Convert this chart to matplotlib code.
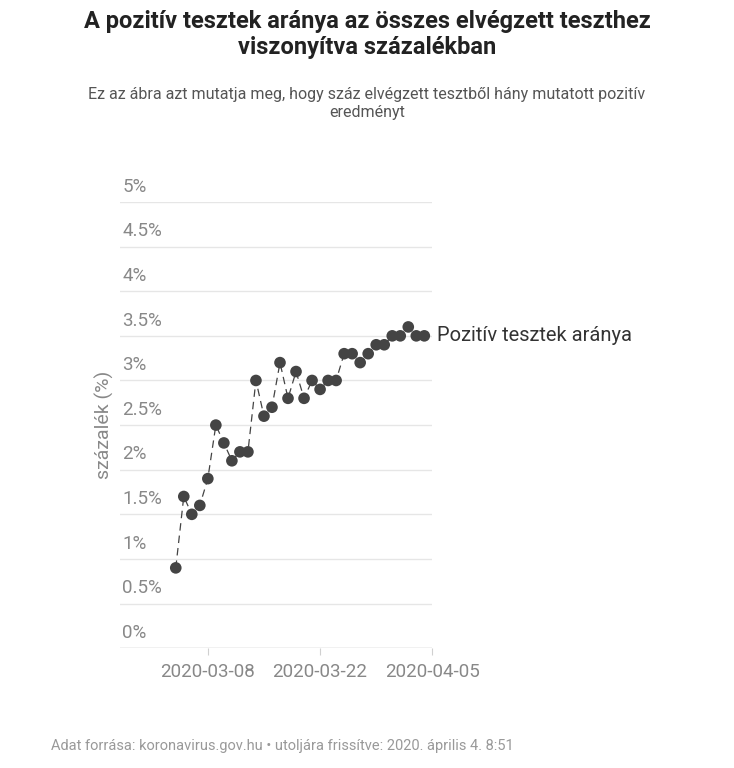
import numpy as np
import pandas as pd
import matplotlib.pyplot as plt
import matplotlib.dates as mdates
import matplotlib.transforms as mtrans

plt.rcParams['font.family'] = ['Roboto', 'DejaVu Sans']

dates = pd.date_range('2020-03-04', '2020-04-04', freq='D')
pct = [0.9, 1.7, 1.5, 1.6, 1.9, 2.5, 2.3, 2.1, 2.2, 2.2, 3.0, 2.6, 2.7, 3.2, 2.8, 3.1,
       2.8, 3.0, 2.9, 3.0, 3.0, 3.3, 3.3, 3.2, 3.3, 3.4, 3.4, 3.5, 3.5, 3.6, 3.5, 3.5]
yticks = [0, 0.5, 1, 1.5, 2, 2.5, 3, 3.5, 4, 4.5, 5]
ylabels = ['0%', '0.5%', '1%', '1.5%', '2%', '2.5%', '3%', '3.5%', '4%', '4.5%', '5%']
xticks = ['2020-03-08', '2020-03-22', '2020-04-05']

fig = plt.figure(figsize=(7.34, 7.68), dpi=100)
ax = fig.add_axes([0.163, 0.156, 0.426, 0.581])
dark = '#444444'
gray = '#888888'

ax.plot(dates, pct, color=dark, lw=0.9, ls=(0, (6, 4)), zorder=2)
ax.scatter(dates, pct, s=70, color=dark, zorder=3, edgecolors='none')

ax.set_xlim(pd.Timestamp('2020-02-26'), pd.Timestamp('2020-04-05'))
ax.set_ylim(0, 5)
for v in yticks:
    ax.axhline(v, color='#e6e6e6', lw=1, zorder=1)
ax.axhline(0, color='#d0d0d0', lw=1, zorder=1)
tr = mtrans.blended_transform_factory(ax.transAxes, ax.transData)
for v, lab in zip(yticks, ylabels):
    ax.text(0.008, v + 0.07, lab, transform=tr, color=gray, fontsize=13.5, va='bottom', ha='left')
ax.set_yticks([])
ax.set_xticks([pd.Timestamp(d) for d in xticks])
ax.set_xticklabels(xticks, color=gray, fontsize=13.5)
ax.tick_params(axis='x', length=5, color='#d0d0d0', pad=6)
for s in ax.spines.values():
    s.set_visible(False)
ax.set_ylabel('százalék (%)', color=gray, fontsize=14, labelpad=4)

ax.text(pd.Timestamp('2020-04-05'), 3.5, ' Pozitív tesztek aránya', color='#333333',
        fontsize=14.5, va='center', ha='left', clip_on=False)

fig.text(0.5, 0.955, 'A pozitív tesztek aránya az összes elvégzett teszthez\nviszonyítva százalékban',
         ha='center', va='center', fontsize=17, fontweight='bold', color='#222222', linespacing=1.2)
fig.text(0.5, 0.865, 'Ez az ábra azt mutatja meg, hogy száz elvégzett tesztből hány mutatott pozitív\neredményt',
         ha='center', va='center', fontsize=11.5, color='#555555', linespacing=1.3)
fig.text(0.07, 0.02, 'Adat forrása: koronavirus.gov.hu • utoljára frissítve: 2020. április 4. 8:51',
         ha='left', va='bottom', fontsize=10.5, color='#999999')

fig.savefig('out.png', dpi=100)
